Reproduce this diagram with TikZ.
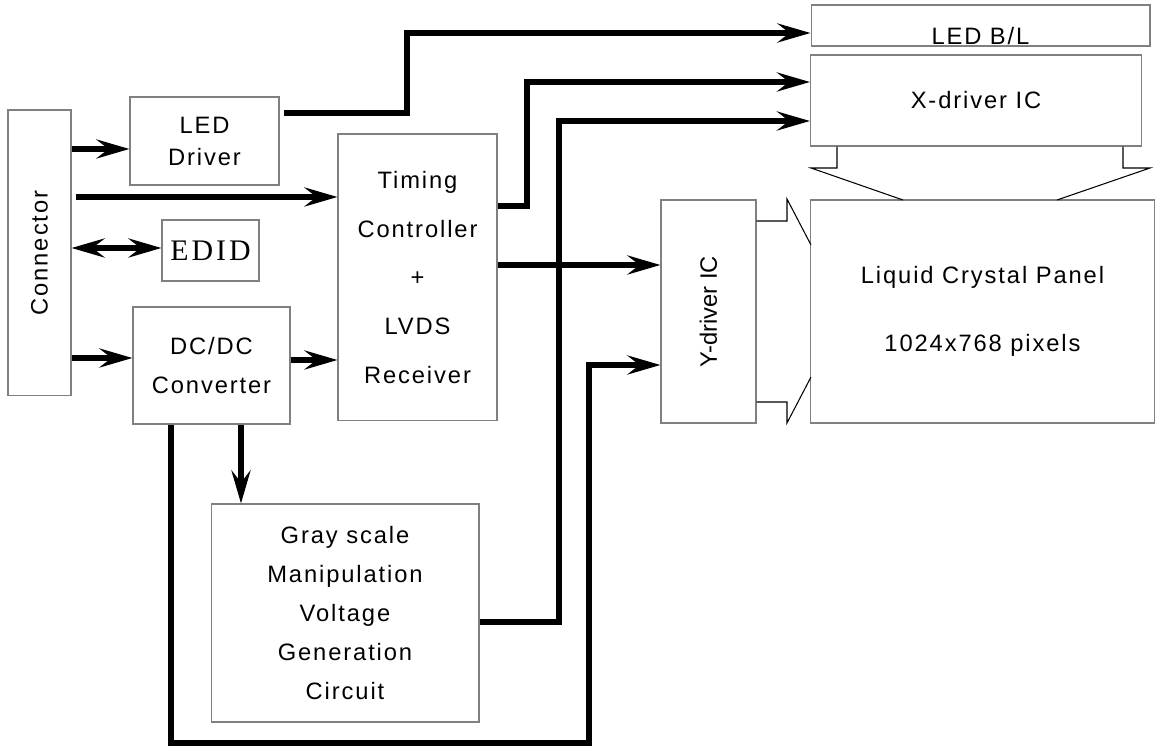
\documentclass[tikz,border=0pt]{standalone}
\usepackage{fontspec}
\setmainfont{Liberation Sans}
\newfontfamily\spaced{Liberation Sans}[LetterSpace=8]
\newfontfamily\edidfont{Liberation Serif}[LetterSpace=10]
\usetikzlibrary{arrows.meta}
\usetikzlibrary{calc}
\newcommand{\boxfont}[1]{\spaced\fontsize{13.5}{#1}\selectfont}

\begin{document}
\begin{tikzpicture}[x=0.02cm, y=-0.02cm,
  box/.style={draw=gray, line width=0.6pt, inner sep=0pt, align=center},
  flow/.style={line width=3.4pt, -{Stealth[length=0.66cm, width=0.38cm, inset=0.24cm]}},
  flowboth/.style={line width=3.4pt, {Stealth[length=0.66cm, width=0.38cm, inset=0.24cm]}-{Stealth[length=0.66cm, width=0.38cm, inset=0.24cm]}},
  outline/.style={line width=0.6pt}]
        % Fix the page to the picture size
        \useasboundingbox (0,0) rectangle (1156,749);

        % Draw the blocks on the left
        \node[box, minimum width=5.72cm, minimum height=1.26cm, rotate=90, font=\boxfont{16}] (conn) at (39.5,253) {Connector};
        \node[box, minimum width=2.98cm, minimum height=1.76cm, font=\boxfont{18.2}] (leddrv) at (204.5,141) {LED\\Driver};
        \node[box, minimum width=1.94cm, minimum height=1.22cm, font=\edidfont\fontsize{17}{19}\selectfont] (edid) at (210.5,250.5) {EDID};
        \node[box, minimum width=3.14cm, minimum height=2.34cm, font=\boxfont{22.7}] (dcdc) at (211.5,365.5) {DC/DC\\Converter};
        \node[box, minimum width=3.18cm, minimum height=5.74cm, font=\boxfont{27.8}] (tcon) at (417.5,277.5) {Timing\\Controller\\+\\LVDS\\Receiver};
        \node[box, minimum width=5.36cm, minimum height=4.36cm, font=\boxfont{22.1}] (gray) at (345,613) {Gray scale\\Manipulation\\Voltage\\Generation\\Circuit};

        % Draw the panel side
        \node[box, minimum width=1.9cm, minimum height=4.46cm] (ydrv) at (708.5,311.5) {};
        \node[rotate=90, font=\fontsize{13.5}{16}\selectfont] at (ydrv) {Y-driver IC};
        \node[box, minimum width=6.88cm, minimum height=4.46cm, font=\boxfont{39}] (panel) at (982.5,311.5) {Liquid Crystal Panel\\1024x768 pixels};
        \node[box, minimum width=6.78cm, minimum height=0.82cm, label={[font=\boxfont{16}, yshift=-0.22cm]center:LED B/L}] (ledbl) at (980.5,25.5) {};
        \node[box, minimum width=6.62cm, minimum height=1.82cm, font=\boxfont{16}] (xdrv) at (976,100.5) {X-driver IC};

        % Signal lines from the connector
        \draw[flow] (conn.south |- 0,149) -- (leddrv.west |- 0,149);
        \draw[flow] ([xshift=0.08cm]conn.south |- 0,197) -- (tcon.west |- 0,197);
        \draw[flowboth] (conn.south |- 0,248) -- (edid.west |- 0,248);
        \draw[flow] (conn.south |- 0,358) -- (dcdc.west |- 0,358);

        % Lines between the blocks
        \draw[flow] (dcdc.east |- 0,360) -- (tcon.west |- 0,360);
        \draw[flow] (tcon.east |- 0,265) -- (ydrv.west |- 0,265);
        \draw[flow] (dcdc.south -| 241,0) -- (gray.north -| 241,0);
        \draw[flow] ([xshift=0.08cm]leddrv.east |- 0,113) -| (407,33) -- (ledbl.west |- 0,33);
        \draw[flow] (tcon.east |- 0,206) -| (527,82) -- (xdrv.west |- 0,82);
        \draw[flow] (gray.east |- 0,622) -| (559,121) -- (xdrv.west |- 0,121);
        \draw[flow] (dcdc.south -| 171,0) |- (589,743) |- (ydrv.west |- 0,365);

        % Open arrows into the panel
        \draw[outline] (xdrv.south -| 837,0) -- (837,168) -- (811,168) -- (903,200);
        \draw[outline] (xdrv.south -| 1123,0) -- (1123,168) -- (1150,168) -- (1057,200);
        \draw[outline] (ydrv.east |- 0,221) -- (787,221) -- (787,199) -- (811,245);
        \draw[outline] (ydrv.east |- 0,402) -- (787,402) -- (787,423) -- (811,377);
      \end{tikzpicture}
\end{document}
